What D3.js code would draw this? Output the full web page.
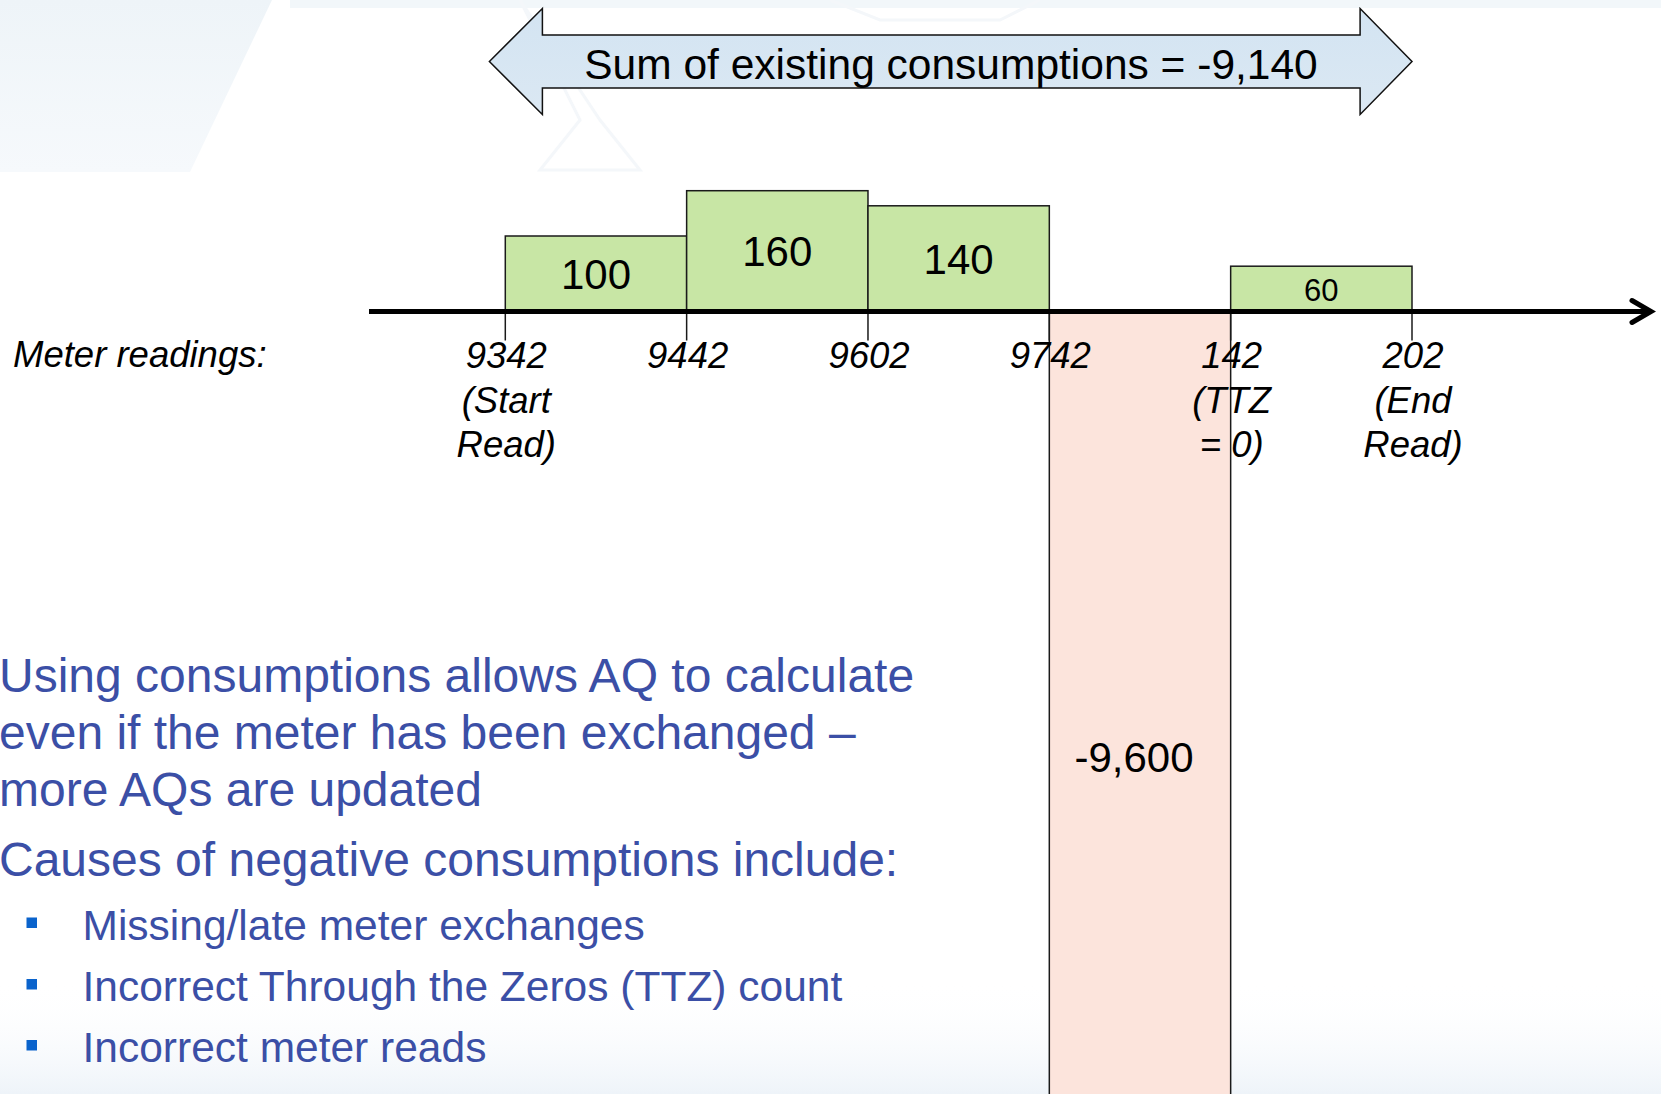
<!DOCTYPE html>
<html>
<head>
<meta charset="utf-8">
<script src="https://cdn.jsdelivr.net/npm/d3@7/dist/d3.min.js"></script>
<style>
html,body{margin:0;padding:0;background:#ffffff;overflow:hidden;}
svg{display:block;}
</style>
</head>
<body>
<script>
// ---- data ----
const readings = ["9342", "9442", "9602", "9742", "142", "202"];
const readingNotes = [["(Start", "Read)"], [], [], [], ["(TTZ", "= 0)"], ["(End", "Read)"]];
const consumptions = [100, 160, 140, -9600, 60];
const sumLabel = "Sum of existing consumptions = -9,140";
const axisTitle = "Meter readings:";
const paragraphs = [
  "Using consumptions allows AQ to calculate",
  "even if the meter has been exchanged \u2013",
  "more AQs are updated"
];
const causesTitle = "Causes of negative consumptions include:";
const causes = ["Missing/late meter exchanges", "Incorrect Through the Zeros (TTZ) count", "Incorrect meter reads"];

// ---- layout ----
const W = 1661, H = 1094;
const FONT = "'Liberation Sans', Arial, sans-serif";
const svg = d3.select("body").append("svg").attr("width", W).attr("height", H);

// background
const defs = svg.append("defs");
const g1 = defs.append("linearGradient").attr("id", "bgTL").attr("x1", 0).attr("y1", 0).attr("x2", 0).attr("y2", 1);
g1.append("stop").attr("offset", 0).attr("stop-color", "#eef4f8");
g1.append("stop").attr("offset", 1).attr("stop-color", "#f6f9fc");
const g2 = defs.append("linearGradient").attr("id", "bgBot").attr("x1", 0).attr("y1", 0).attr("x2", 0).attr("y2", 1);
g2.append("stop").attr("offset", 0).attr("stop-color", "#ffffff").attr("stop-opacity", 0);
g2.append("stop").attr("offset", 1).attr("stop-color", "#e3ecf5").attr("stop-opacity", 1);
const g3 = defs.append("linearGradient").attr("id", "arrowFill").attr("x1", 0).attr("y1", 0).attr("x2", 0).attr("y2", 1);
g3.append("stop").attr("offset", 0).attr("stop-color", "#d3e4f2");
g3.append("stop").attr("offset", 1).attr("stop-color", "#dbe8f3");

svg.append("rect").attr("width", W).attr("height", H).attr("fill", "#ffffff");
svg.append("path").attr("d", "M0,0 L272,0 L190,172 L0,172 Z").attr("fill", "url(#bgTL)");
svg.append("path").attr("d", "M290,0 L1661,0 L1661,8 L290,8 Z").attr("fill", "#eaf2f7").attr("opacity", 0.6);
svg.append("path").attr("d", "M520,0 L580,120 L540,170 L640,170 L600,120 Z").attr("fill", "none").attr("stroke", "#f4f7fa").attr("stroke-width", 3);
svg.append("path").attr("d", "M830,0 L880,20 L1000,20 L1040,0").attr("fill", "none").attr("stroke", "#f4f7fa").attr("stroke-width", 3);
svg.append("rect").attr("x", 0).attr("y", 980).attr("width", W).attr("height", 114).attr("fill", "url(#bgBot)").attr("opacity", 0.6);

// scales
const x = d3.scaleLinear().domain([0, readings.length - 1]).range([505.3, 1412]);
const y = d3.scaleLinear().domain([0, 160]).range([311.5, 190.7]);
const axisY = y(0);

// bars
const bars = consumptions.map((v, i) => ({v, i}));
const barG = svg.append("g");
barG.selectAll("rect").data(bars).join("rect")
  .attr("x", d => x(d.i))
  .attr("width", d => x(d.i + 1) - x(d.i))
  .attr("y", d => d.v >= 0 ? y(d.v) : axisY)
  .attr("height", d => d.v >= 0 ? axisY - y(d.v) : Math.min(y(d.v), H + 10) - axisY)
  .attr("fill", d => d.v >= 0 ? "#c8e6a5" : "#fce4dc")
  .attr("stroke", "#1a1a1a")
  .attr("stroke-width", 1.5);

// tick marks below axis
svg.append("g").selectAll("line").data(readings).join("line")
  .attr("x1", (d, i) => x(i)).attr("x2", (d, i) => x(i))
  .attr("y1", axisY).attr("y2", axisY + 29)
  .attr("stroke", "#1a1a1a").attr("stroke-width", 1.5);

// axis line with arrow
svg.append("line").attr("x1", 369).attr("x2", 1650).attr("y1", axisY).attr("y2", axisY)
  .attr("stroke", "#000").attr("stroke-width", 5);
svg.append("path").attr("d", `M1632,${axisY - 11} L1651,${axisY} L1632,${axisY + 11}`)
  .attr("fill", "none").attr("stroke", "#000").attr("stroke-width", 5)
  .attr("stroke-linecap", "round").attr("stroke-linejoin", "miter");

// bar labels
barG.selectAll("text").data(bars).join("text")
  .attr("x", d => d.v >= 0 ? (x(d.i) + x(d.i + 1)) / 2 : (x(d.i) + x(d.i + 1)) / 2 - 6)
  .attr("y", d => d.v >= 0 ? (y(d.v) + axisY) / 2 + (d.v < 80 ? 12 : 15) : 772)
  .attr("text-anchor", "middle")
  .attr("font-family", FONT)
  .attr("font-size", d => d.v >= 0 && d.v < 80 ? 31 : 42)
  .attr("fill", "#000")
  .text(d => d3.format(",")(d.v).replace("\u2212", "-"));

// reading labels
const lab = svg.append("g").attr("font-family", FONT).attr("font-style", "italic").attr("font-size", 36.5).attr("fill", "#000");
readings.forEach((r, i) => {
  const lines = [r].concat(readingNotes[i]);
  lines.forEach((t, k) => {
    lab.append("text").attr("x", x(i) + 1).attr("y", 368 + k * 44.5)
      .attr("text-anchor", "middle").text(t);
  });
});
lab.append("text").attr("x", 13).attr("y", 367).text(axisTitle);

// double-headed block arrow
const ax = d3.scaleLinear().domain([0, 1]).range([489.4, 1412]);
const arrowPts = [
  [ax(0), 61.5], [542.4, 8.5], [542.4, 35], [1360.1, 35], [1360.1, 8.5],
  [ax(1), 61.5], [1360.1, 114.5], [1360.1, 88], [542.4, 88], [542.4, 114.5]
];
svg.append("path").attr("d", d3.line()(arrowPts) + "Z")
  .attr("fill", "url(#arrowFill)").attr("stroke", "#111").attr("stroke-width", 1.5)
  .attr("stroke-linejoin", "miter");
svg.append("text").attr("x", 951).attr("y", 79).attr("text-anchor", "middle")
  .attr("font-family", FONT).attr("font-size", 42.5).attr("fill", "#000").text(sumLabel);

// blue text
const blue = "#3b4fa6";
const tg = svg.append("g").attr("font-family", FONT).attr("fill", blue).attr("font-size", 48);
paragraphs.forEach((t, k) => tg.append("text").attr("x", -1).attr("y", 692 + k * 57).text(t));
tg.append("text").attr("x", -1).attr("y", 876).text(causesTitle);
const bl = svg.append("g").attr("font-family", FONT).attr("fill", blue).attr("font-size", 42.5);
const bulletY = [939.5, 1001, 1062];
causes.forEach((t, k) => {
  bl.append("text").attr("x", 82.5).attr("y", bulletY[k]).text(t);
  svg.append("rect").attr("x", 26.5).attr("y", bulletY[k] - 22).attr("width", 10.5).attr("height", 10.5).attr("fill", "#0a63cc");
});
</script>
</body>
</html>
